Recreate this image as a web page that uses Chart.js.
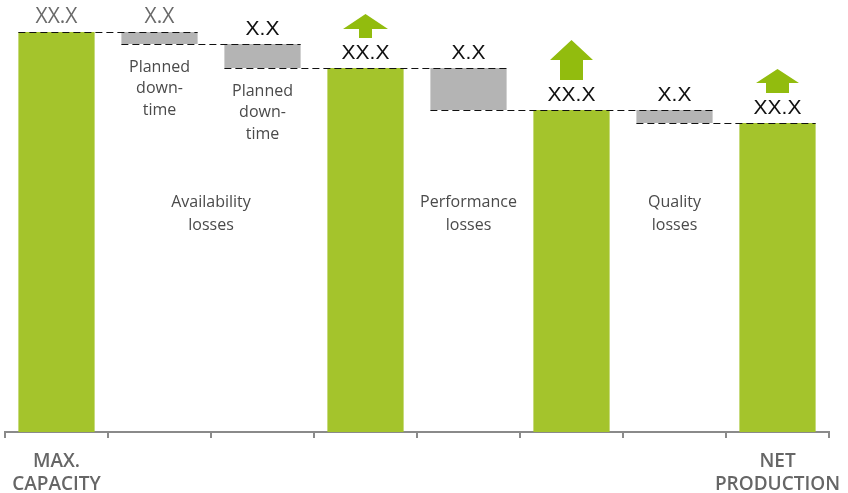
<!DOCTYPE html>
<html>
<head>
<meta charset="utf-8">
<script src="https://cdn.jsdelivr.net/npm/chart.js@4/dist/chart.umd.min.js"></script>
<style>
  html, body { margin: 0; padding: 0; background: #ffffff; }
  #wrap { width: 848px; height: 493px; }
</style>
</head>
<body>
<div id="wrap"><canvas id="oee"></canvas></div>
<script>
// Waterfall steps: capacity, losses and the resulting subtotals
const categories = [["MAX.", "CAPACITY"], "", "", "", "", "", "", ["NET", "PRODUCTION"]];
const stepKinds = ["total", "loss", "loss", "total", "loss", "total", "loss", "total"];
const stepValues = [100, 3, 6, 91, 10.5, 80.5, 3.25, 77.25];
const valueLabels = ["XX.X", "X.X", "X.X", "XX.X", "X.X", "XX.X", "X.X", "XX.X"];
const stepNotes = [null, ["Planned", "down-", "time"], ["Planned", "down-", "time"], null, null, null, null, null];
const groupLabels = [["Availability", "losses"], ["Performance", "losses"], ["Quality", "losses"]];
const groupSpans = [[1, 2], [4, 4], [6, 6]];

// Floating bars built from the running total
let running = 0;
const barData = stepValues.map((v, i) => {
  if (stepKinds[i] === "total") { running = v; return [0, v]; }
  const hi = running;
  running = hi - v;
  return [running, hi];
});
const levelAfter = barData.map((d, i) => stepKinds[i] === "total" ? d[1] : d[0]);

const GREEN = "#a4c42c";
const GREY = "#b4b4b4";
const ARROW = "#92bc0e";

// Up-arrow shapes above the subtotal bars (tip-to-base head, shaft length, widths)
const arrowShapes = {
  3: { head: 15, shaft: 9, headW: 45, shaftW: 13 },
  5: { head: 20, shaft: 20, headW: 43, shaftW: 23 },
  7: { head: 14, shaft: 10, headW: 43, shaftW: 23 }
};

const decorations = {
  id: "waterfallDecor",
  afterDatasetsDraw(chart) {
    const ctx = chart.ctx;
    const yScale = chart.scales.y;
    const bars = chart.getDatasetMeta(0).data.map(b => {
      const p = b.getProps(["x", "y", "base", "width"], true);
      return { x: p.x, top: Math.min(p.y, p.base), bottom: Math.max(p.y, p.base),
               left: p.x - p.width / 2, right: p.x + p.width / 2 };
    });

    // dashed connectors between consecutive steps
    ctx.save();
    ctx.strokeStyle = "#111111";
    ctx.lineWidth = 1;
    ctx.setLineDash([7, 4]);
    let i = 0;
    while (i < bars.length - 1) {
      const lvl = levelAfter[i];
      let j = i + 1;
      while (j < bars.length - 1 && levelAfter[j] === lvl) j++;
      const y = Math.round(yScale.getPixelForValue(lvl)) + 0.5;
      ctx.beginPath();
      ctx.moveTo(bars[i].left, y);
      ctx.lineTo(bars[j].right, y);
      ctx.stroke();
      i = j;
    }
    ctx.restore();

    // value labels
    ctx.save();
    ctx.textAlign = "center";
    ctx.textBaseline = "alphabetic";
    bars.forEach((b, k) => {
      if (k < 2) {
        ctx.fillStyle = "#6a6a6a";
        ctx.font = '21px "Open Sans"';
      } else {
        ctx.fillStyle = "#111111";
        ctx.font = '21px "Liberation Sans"';
      }
      ctx.fillText(valueLabels[k], b.x, b.top - 9);
    });
    ctx.restore();

    // arrows above subtotals
    ctx.save();
    ctx.fillStyle = ARROW;
    Object.keys(arrowShapes).forEach(key => {
      const s = arrowShapes[key];
      const b = bars[+key];
      const bottom = b.top - 30;
      const base = bottom - s.shaft;
      const tip = base - s.head;
      ctx.beginPath();
      ctx.moveTo(b.x - s.shaftW / 2, bottom);
      ctx.lineTo(b.x - s.shaftW / 2, base);
      ctx.lineTo(b.x - s.headW / 2, base);
      ctx.lineTo(b.x, tip);
      ctx.lineTo(b.x + s.headW / 2, base);
      ctx.lineTo(b.x + s.shaftW / 2, base);
      ctx.lineTo(b.x + s.shaftW / 2, bottom);
      ctx.closePath();
      ctx.fill();
    });
    ctx.restore();

    // notes under the loss bars and group captions
    ctx.save();
    ctx.fillStyle = "#4a4a4a";
    ctx.font = '16px "Open Sans"';
    ctx.textAlign = "center";
    ctx.textBaseline = "middle";
    bars.forEach((b, k) => {
      if (!stepNotes[k]) return;
      stepNotes[k].forEach((line, n) => ctx.fillText(line, b.x, b.bottom + 23 + n * 21.5));
    });
    const captionY = yScale.getPixelForValue(54.5);
    groupLabels.forEach((lines, g) => {
      const [a, z] = groupSpans[g];
      const cx = (bars[a].x + bars[z].x) / 2;
      lines.forEach((line, n) => ctx.fillText(line, cx, captionY - 11.5 + n * 23));
    });
    ctx.restore();
  }
};

new Chart(document.getElementById("oee"), {
  type: "bar",
  data: {
    labels: categories,
    datasets: [{
      data: barData,
      backgroundColor: stepKinds.map(k => k === "total" ? GREEN : GREY),
      borderWidth: 0,
      categoryPercentage: 1,
      barPercentage: 0.74
    }]
  },
  options: {
    responsive: true,
    maintainAspectRatio: false,
    animation: false,
    layout: { padding: { left: 5, right: 19, top: 0, bottom: 0 } },
    plugins: { legend: { display: false }, tooltip: { enabled: false } },
    scales: {
      x: {
        afterFit(scale) {
          scale.height = 61;
          scale.paddingLeft = 0;
          scale.paddingRight = 0;
        },
        grid: { display: true, drawOnChartArea: false, drawTicks: true, tickLength: 6, color: "#8a8a8a", lineWidth: 2 },
        border: { display: true, color: "#8a8a8a", width: 2 },
        ticks: {
          color: "#666666",
          padding: 12,
          maxRotation: 0,
          autoSkip: false,
          font: { family: "Open Sans", size: 19, weight: 600, lineHeight: 1.2 }
        }
      },
      y: { display: false, min: 0, max: 108 }
    }
  },
  plugins: [decorations]
});
</script>
</body>
</html>
